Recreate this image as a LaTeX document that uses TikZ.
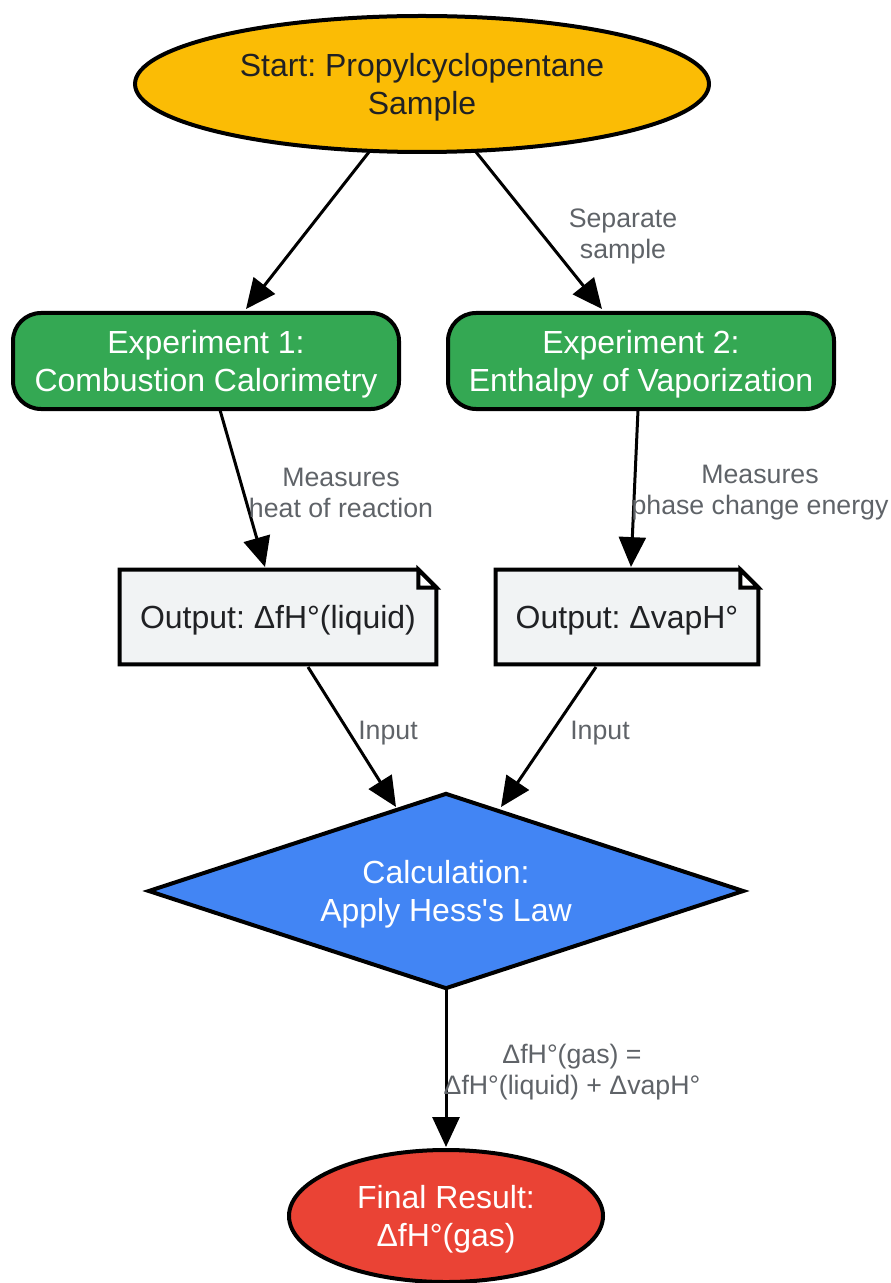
\documentclass[tikz,border=0pt]{standalone}
\usepackage{fontspec}
\setmainfont{Liberation Sans}
\usetikzlibrary{shapes.geometric,arrows.meta,calc}
\frenchspacing
\newdimen\pxu \pxu=0.02cm
\definecolor{cstart}{HTML}{FBBC05}
\definecolor{cgreen}{HTML}{34A853}
\definecolor{cnote}{HTML}{F1F3F4}
\definecolor{cblue}{HTML}{4285F4}
\definecolor{cred}{HTML}{EA4335}
\definecolor{cdark}{HTML}{202124}
\definecolor{clabel}{HTML}{5F6368}
\tikzset{
  border/.style={draw=black,line width=4\pxu},
  maintext/.style={font=\fontsize{18.2}{21.5}\selectfont,align=center,text depth=0pt},
  startnode/.style={border,ellipse,fill=cstart,text=cdark,maintext,minimum width=574\pxu,minimum height=136\pxu,inner sep=0pt},
  expnode/.style={border,rounded corners=28\pxu,fill=cgreen,text=white,maintext,minimum width=386\pxu,minimum height=96\pxu,inner sep=0pt},
  notenode/.style={maintext,text=cdark,minimum height=94\pxu,inner sep=0pt},
  calcnode/.style={border,diamond,aspect=3.04,fill=cblue,text=white,maintext,minimum width=596\pxu,minimum height=196\pxu,inner sep=0pt},
  endnode/.style={border,ellipse,fill=cred,text=white,maintext,minimum width=314\pxu,minimum height=132\pxu,inner sep=0pt},
  edge/.style={draw=black,line width=3\pxu,-{Triangle[length=17pt,width=15.3pt]}},
  elabel/.style={text=clabel,font=\fontsize{15.2}{17.6}\selectfont,align=center,inner sep=0pt}
}
\begin{document}
\begin{tikzpicture}[x=0.02cm,y=-0.02cm]
\useasboundingbox (0,0) rectangle (890,1283);
% nodes
\node[startnode] (start) at (422,84) {Start: Propylcyclopentane\\Sample};
\node[expnode] (e1) at (206,361) {Experiment 1:\\Combustion Calorimetry};
\node[expnode] (e2) at (641,361) {Experiment 2:\\Enthalpy of Vaporization};
\node[notenode,minimum width=316\pxu] (o1) at (278,617) {};
\node[notenode,minimum width=262\pxu] (o2) at (627,617) {};
\foreach \n in {o1,o2}{
  \filldraw[border,fill=cnote,line join=miter] (\n.north west) -- ($(\n.north east)+(-18,0)$) -- ($(\n.north east)+(0,18)$) -- (\n.south east) -- (\n.south west) -- cycle;
  \filldraw[border,fill=white,line join=miter] ($(\n.north east)+(-18,0)$) -- ($(\n.north east)+(-18,18)$) -- ($(\n.north east)+(0,18)$) -- cycle;
}
\node[maintext,text=cdark] at (o1) {Output: ΔfH°(liquid)};
\node[maintext,text=cdark] at (o2) {Output: ΔvapH°};
\node[calcnode] (calc) at (446,891) {Calculation:\\Apply Hess\textquotesingle s Law};
\node[endnode] (fin) at (446,1216) {Final Result:\\ΔfH°(gas)};
% connector end points
\coordinate (s1) at (369,152);
\coordinate (s2) at (476,152);
\coordinate (t1) at (246,309);
\coordinate (t2) at (602,309);
\coordinate (u1) at (220,410);
\coordinate (u2) at (638,410);
\coordinate (v1) at (265,567);
\coordinate (v2) at (631,567);
\coordinate (w1) at (308,667);
\coordinate (w2) at (596,667);
\coordinate (x1) at (396,807);
\coordinate (x2) at (501,807);
\coordinate (y1) at (446,989);
\coordinate (y2) at (446,1147);
% edges
\draw[edge] (s1) -- (t1);
\draw[edge] (s2) -- (t2);
\draw[edge] (u1) -- (v1);
\draw[edge] (u2) -- (v2);
\draw[edge] (w1) -- (x1);
\draw[edge] (w2) -- (x2);
\draw[edge] (y1) -- (y2);
% labels
\node[elabel] (l1) at (623,236) {Separate\\sample};
\node[elabel] (l2) at (341,493) {Measures\\heat of reaction};
\node[elabel] (l3) at (760,493) {Measures\\phase change energy};
\node[elabel] (l4) at (388,733) {Input};
\node[elabel] (l5) at (600,733) {Input};
\node[elabel] (l6) at (572,1072) {ΔfH°(gas) =\\ΔfH°(liquid) + ΔvapH°};
\end{tikzpicture}
\end{document}
